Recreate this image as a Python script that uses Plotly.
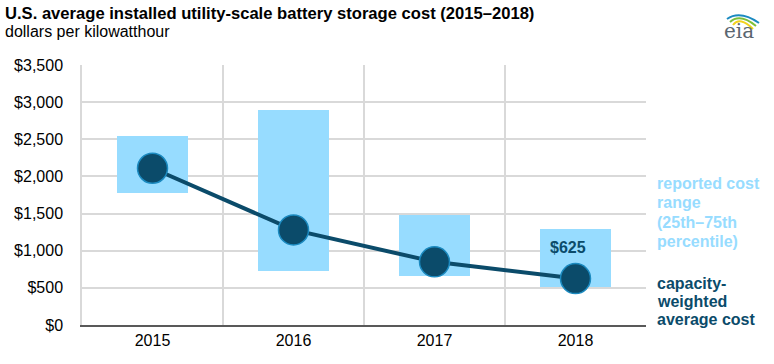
import plotly.graph_objects as go

years = ["2015", "2016", "2017", "2018"]
range_low = [1775, 725, 665, 510]
range_high = [2540, 2900, 1480, 1290]
avg_cost = [2110, 1280, 850, 625]
y_ticks = [0, 500, 1000, 1500, 2000, 2500, 3000, 3500]
y_tick_labels = ["$0", "$500", "$1,000", "$1,500", "$2,000", "$2,500", "$3,000", "$3,500"]
range_label_lines = ["reported cost", "range", "(25th–75th", "percentile)"]
avg_label_lines = ["capacity-", "weighted", "average cost"]

W, H = 774, 364
L, R, T, B = 82, 646, 65, 325

def px(x):
    return (x - L) / (R - L)

def py(y):
    return (B - y) / (B - T)

FONT = "Liberation Sans, Arial, sans-serif"
LIGHT = "#97dcff"
DARK = "#0b4b6a"

xpos = list(range(len(years)))

fig = go.Figure()
fig.add_trace(go.Bar(
    x=xpos, y=[h - l for h, l in zip(range_high, range_low)], base=range_low,
    width=0.5, marker=dict(color=LIGHT, line=dict(width=0)),
    hoverinfo="skip", showlegend=False,
))
fig.add_trace(go.Scatter(
    x=xpos, y=avg_cost, mode="lines+markers",
    line=dict(color=DARK, width=4),
    marker=dict(size=30, color=DARK, line=dict(color="#1b8ac0", width=1.5)),
    showlegend=False,
))

annotations = [
    dict(text="<b>U.S. average installed utility-scale battery storage cost (2015–2018)</b>",
         x=px(3), y=py(13), xref="paper", yref="paper", xanchor="left", yanchor="middle",
         showarrow=False, font=dict(size=16.6, color="#000000", family=FONT)),
    dict(text="dollars per kilowatthour",
         x=px(3), y=py(31), xref="paper", yref="paper", xanchor="left", yanchor="middle",
         showarrow=False, font=dict(size=16, color="#000000", family=FONT)),
    dict(text="<b>$625</b>", x=3, y=avg_cost[3], xref="x", yref="y",
         xshift=-8, yshift=31, showarrow=False,
         font=dict(size=16, color=DARK, family=FONT)),
    dict(text="eia", x=px(739), y=py(31), xref="paper", yref="paper",
         xanchor="center", yanchor="middle", showarrow=False,
         font=dict(size=20, color="#5a6670", family="DejaVu Serif, serif")),
]
for i, t in enumerate(range_label_lines):
    annotations.append(dict(
        text=f"<b>{t}</b>", x=px(655), y=py(183 + 19.6 * i), xref="paper", yref="paper",
        xanchor="left", yanchor="middle", showarrow=False,
        font=dict(size=16, color=LIGHT, family=FONT)))
for i, t in enumerate(avg_label_lines):
    annotations.append(dict(
        text=f"<b>{t}</b>", x=px(655), y=py(283 + 18 * i), xref="paper", yref="paper",
        xanchor="left", yanchor="middle", showarrow=False,
        font=dict(size=16, color=DARK, family=FONT)))

shapes = []
arcs = [("#f2d21c", 9), ("#7dbf3a", 12), ("#1b8ac0", 15)]
for col, r in arcs:
    shapes.append(dict(
        type="path", xref="paper", yref="paper",
        xsizemode="pixel", ysizemode="pixel",
        xanchor=px(740), yanchor=py(28),
        path=f"M {-r+2},{r-6} Q 0,{r+3} {r+4},{r-10}",
        line=dict(color=col, width=2),
    ))

fig.update_layout(
    width=W, height=H,
    margin=dict(l=L, r=W - R, t=T, b=H - B),
    paper_bgcolor="white", plot_bgcolor="white",
    font=dict(family=FONT, size=16, color="#000000"),
    xaxis=dict(
        range=[-0.5, 3.5], tickmode="array", tickvals=xpos, ticktext=years,
        showgrid=False, zeroline=False, showline=True, linecolor="#595959", linewidth=2,
        ticks="", ticklen=0, fixedrange=True,
        minor=dict(tickmode="array", tickvals=[0.5, 1.5, 2.5], showgrid=True,
                   gridcolor="#d9d9d9", gridwidth=1.5, ticks=""),
        tickfont=dict(size=16),
    ),
    yaxis=dict(
        range=[0, 3500], tickmode="array", tickvals=y_ticks, ticktext=y_tick_labels,
        showgrid=True, gridcolor="#d9d9d9", gridwidth=1.5,
        zeroline=False, showline=True, linecolor="#d9d9d9", linewidth=1.5,
        ticks="", ticklabelstandoff=14, tickfont=dict(size=16),
    ),
    annotations=annotations, shapes=shapes, bargap=0,
)

fig.write_html("out.html", config={"displayModeBar": False},
               post_script="document.body.style.margin='0';document.body.style.overflow='hidden';")
